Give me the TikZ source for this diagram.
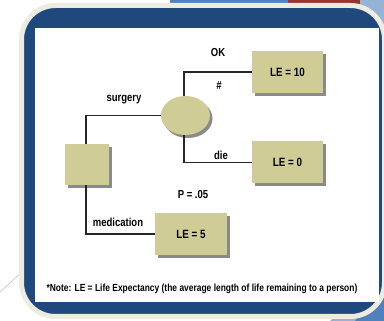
\documentclass[tikz,border=0pt]{standalone}
\usepackage{fontspec}
\setmainfont{Liberation Sans}[FakeStretch=0.82]
\usetikzlibrary{shapes.geometric,shadows}
\definecolor{frameblue}{RGB}{31,73,125}
\definecolor{cream}{RGB}{238,235,224}
\definecolor{khaki}{RGB}{207,204,150}
\definecolor{lightblue}{RGB}{149,179,215}
\definecolor{midblue}{RGB}{79,129,189}
\definecolor{darkred}{RGB}{150,52,48}
\tikzset{
  khakibox/.style={draw=none, fill=khaki, drop shadow={shadow xshift=2.5pt, shadow yshift=-3pt, fill=black!65, opacity=0.7}},
  outcome/.style={khakibox, rectangle, minimum width=71pt, minimum height=42pt, inner sep=0pt, font=\bfseries\fontsize{12}{14}\selectfont},
  branch/.style={line width=1.1pt, black!85},
  lbl/.style={font=\bfseries\fontsize{11.6}{13}\selectfont, inner sep=0pt}
}
\begin{document}
\begin{tikzpicture}[x=1pt,y=-1pt]
\useasboundingbox (0,0) rectangle (384,321);
\fill[white] (0,0) rectangle (384,321);
% background pieces
\fill[midblue] (170,0) rectangle (290,4);
\fill[darkred] (288,0) rectangle (362,20);
\fill[lightblue] (360,0) rectangle (384,60);
\fill[lightblue] (384,270) -- (384,321) -- (330,321) -- cycle;
\fill[midblue] (384,285) -- (384,321) -- (355,321) -- cycle;
\draw[black!20, line width=0.8pt] (0,292) -- (22,272);
% frame
\draw[cream, line width=5pt, fill=frameblue, rounded corners=34pt] (21.5,5.5) rectangle (384.5,316.5);
% white panel
\fill[white] (35,28) rectangle (379,302);
% nodes
\node[outcome] (le10) at (287.5,72) {LE = 10};
\node[outcome] (le0) at (287.5,162.5) {LE = 0};
\node[outcome, minimum width=72pt] (le5) at (191,234) {LE = 5};
\node[khakibox, rectangle, minimum width=44pt, minimum height=41pt, inner sep=0pt] (dec) at (87,164.5) {};
\node[khakibox, ellipse, minimum width=49pt, minimum height=39pt, inner sep=0pt] (chance) at (185.5,115.5) {};
% connectors
\draw[branch] (dec.north -| 86,0) |- (chance.west);
\draw[branch] (dec.south -| 86,0) |- (le5.west);
\draw[branch] (chance.north -| 184,0) |- (le10.west);
\draw[branch] (chance.south -| 184,0) |- (le0.west);
% labels
\node[lbl] (ok) at (218,53) {OK};
\node[lbl] (hash) at (219,86) {\#};
\node[lbl] (surg) at (124,100) {surgery};
\node[lbl] (die) at (221,155) {die};
\node[lbl] (p) at (193,195) {P = .05};
\node[lbl] (med) at (118,222) {medication};
\node[font=\bfseries\fontsize{10.3}{12}\selectfont, inner sep=0pt] (note) at (202,289) {*Note: LE = Life Expectancy (the average length of life remaining to a person)};
\end{tikzpicture}
\end{document}
